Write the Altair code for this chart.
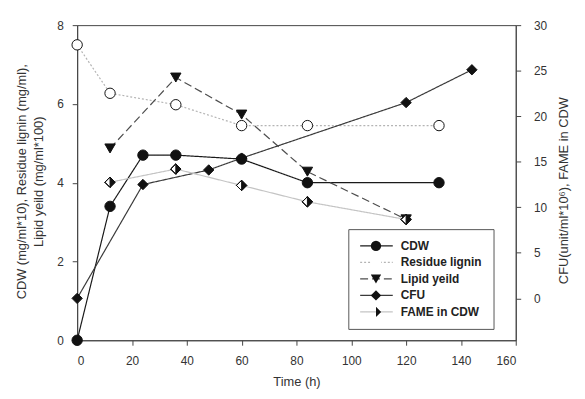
import altair as alt
import pandas as pd

SERIES = ["CDW", "Residue lignin", "Lipid yeild", "CFU", "FAME in CDW"]

TIME_CDW = [0, 12, 24, 36, 60, 84, 132]
CDW = [0, 3.4, 4.7, 4.7, 4.6, 4.0, 4.0]

TIME_LIGNIN = [0, 12, 36, 60, 84, 132]
LIGNIN = [7.5, 6.27, 5.98, 5.45, 5.45, 5.45]

TIME_LIPID = [12, 36, 60, 84, 120]
LIPID = [4.87, 6.67, 5.73, 4.28, 3.07]

TIME_CFU = [0, 24, 48, 60, 120, 144]
CFU = [0, 12.5, 14.1, 15.4, 21.5, 25.1]

TIME_FAME = [12, 36, 60, 84, 120]
FAME = [12.75, 14.2, 12.4, 10.6, 8.66]

X_TICKS = [0, 20, 40, 60, 80, 100, 120, 140, 160]
LEFT_TICKS = [0, 2, 4, 6, 8]
RIGHT_TICKS = [0, 5, 10, 15, 20, 25, 30]

LEFT_TITLE = ["CDW (mg/ml*10), Residue lignin (mg/ml),", "Lipid yeild (mg/ml*100)"]
RIGHT_TITLE = "CFU(unit/ml*10\u2076), FAME in CDW"
X_TITLE = "Time (h)"

rows = []


def add(name, times, vals, axis):
    for t, v in zip(times, vals):
        rows.append({"time": t, "value": v, "series": name, "marker": name + " ", "axis": axis})


add("CDW", TIME_CDW, CDW, "left")
add("Residue lignin", TIME_LIGNIN, LIGNIN, "left")
add("Lipid yeild", TIME_LIPID, LIPID, "left")
add("CFU", TIME_CFU, CFU, "right")
add("FAME in CDW", TIME_FAME, FAME, "right")
df = pd.DataFrame(rows)

FONT = "Liberation Sans"
LINE_COLORS = ["#1a1a1a", "#b4b4b4", "#4d4d4d", "#3a3a3a", "#c4c4c4"]
LINE_DASHES = [[1, 0], [2, 2], [8, 4], [1, 0], [1, 0]]
HALF = "M0,-1L1,0L0,1Z M0,-1L-1,0L0,1L-1,0Z"
SHAPES = ["circle", "circle", "triangle-down", "diamond", HALF]
FILLS = ["#111111", "#ffffff", "#111111", "#111111", "#111111"]
MARKERS = [s + " " for s in SERIES]

legend_lines = alt.Legend(
    title=None, orient="none", legendX=274.5, legendY=206.5, direction="vertical",
    symbolType="stroke", symbolSize=1089, symbolStrokeWidth=1.2, clipHeight=12,
    rowPadding=4.7, padding=11, labelOffset=7, labelFont=FONT, labelFontSize=12,
    labelFontWeight="bold", labelColor="#222222", strokeColor="#555555",
    fillColor="white", zindex=0, labelLimit=300,
)
legend_marks = alt.Legend(
    title=None, orient="none", legendX=285.5, legendY=206.5, direction="vertical",
    symbolSize=110, symbolStrokeColor="#111111", symbolStrokeWidth=1, symbolOpacity=1,
    clipHeight=12, rowPadding=4.7, padding=11, labelFontSize=12, labelExpr="''",
    labelLimit=300, zindex=1,
)

x_enc = alt.X(
    "time:Q",
    scale=alt.Scale(domain=[0, 160], nice=False, zero=False),
    axis=alt.Axis(values=X_TICKS, tickSize=5, labelPadding=11, title=X_TITLE,
                  titleY=42, titleBaseline="middle", titleFontSize=13),
)
color_enc = alt.Color("series:N", scale=alt.Scale(domain=SERIES, range=LINE_COLORS), legend=legend_lines)
dash_enc = alt.StrokeDash("series:N", scale=alt.Scale(domain=SERIES, range=LINE_DASHES), legend=legend_lines)
shape_enc = alt.Shape("marker:N", scale=alt.Scale(domain=MARKERS, range=SHAPES), legend=legend_marks)
fill_enc = alt.Fill("marker:N", scale=alt.Scale(domain=MARKERS, range=FILLS), legend=legend_marks)

left_scale = alt.Scale(domain=[0, 8], nice=False, zero=False)
right_scale = alt.Scale(domain=[-4.6, 30], nice=False, zero=False)

y_left_axis = alt.Y(
    "value:Q", scale=left_scale,
    axis=alt.Axis(values=LEFT_TICKS, tickSize=5, labelPadding=9, title=LEFT_TITLE,
                  titleX=-62.3, titleY=158, titleAngle=270, titleBaseline="top",
                  titleAlign="center", titleLineHeight=17, titleFontSize=13),
)
y_left = alt.Y("value:Q", scale=left_scale, axis=None)
y_right_axis = alt.Y(
    "value:Q", scale=right_scale,
    axis=alt.Axis(orient="right", values=RIGHT_TICKS, tickSize=5, labelPadding=13,
                  title=RIGHT_TITLE, titleX=48, titleY=167, titleAngle=270,
                  titleBaseline="middle", titleAlign="center", titleFontSize=13),
)
y_right = alt.Y("value:Q", scale=right_scale, axis=None)

base = alt.Chart(df)
left = base.transform_filter(alt.datum.axis == "left")
right = base.transform_filter(alt.datum.axis == "right")

left_lines = left.mark_line(strokeWidth=1.2).encode(x=x_enc, y=y_left_axis, color=color_enc, strokeDash=dash_enc)
right_lines = right.mark_line(strokeWidth=1.2).encode(x=x_enc, y=y_right_axis, color=color_enc, strokeDash=dash_enc)

point_props = dict(filled=True, stroke="#111111", strokeWidth=1, opacity=1, size=110)
left_points = left.mark_point(**point_props).encode(x=x_enc, y=y_left, shape=shape_enc, fill=fill_enc)
right_under = right.transform_filter(alt.datum.series == "FAME in CDW").mark_point(
    shape="diamond", filled=True, fill="white", stroke="#111111", strokeWidth=1, opacity=1, size=110
).encode(x=x_enc, y=y_right)
right_points = right.mark_point(**point_props).encode(x=x_enc, y=y_right, shape=shape_enc, fill=fill_enc)

chart = (
    alt.layer(left_lines, right_lines, left_points, right_under, right_points)
    .resolve_scale(y="independent")
    .properties(
        width=444, height=319,
        padding={"left": 70, "top": 15, "right": 62, "bottom": 49},
        autosize=alt.AutoSizeParams(type="none"),
        background="white",
    )
    .configure(font=FONT)
    .configure_view(stroke="#444444", strokeWidth=1)
    .configure_axis(grid=False, domainColor="#444444", tickColor="#444444",
                    labelFont=FONT, labelFontSize=12, labelColor="#333333",
                    titleFont=FONT, titleColor="#333333", titleFontWeight="normal")
)

chart.save("out.html", embed_options={"renderer": "svg", "actions": False})
